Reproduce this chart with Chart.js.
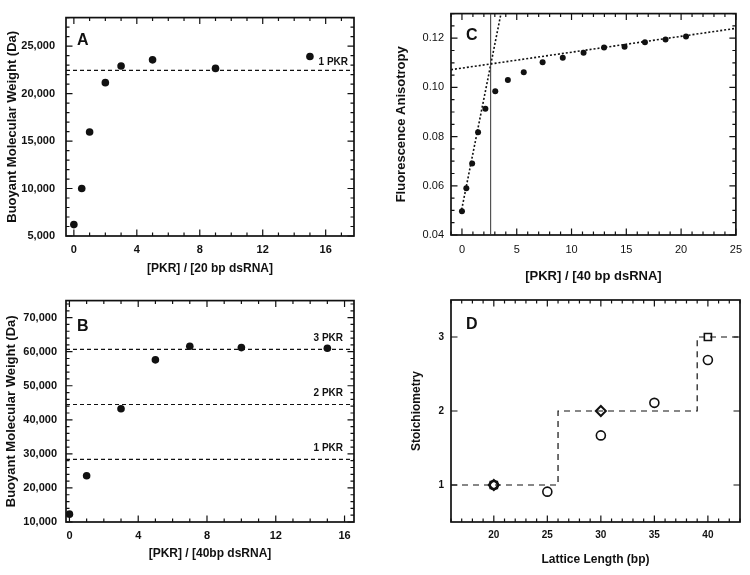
<!DOCTYPE html>
<html>
<head>
<meta charset="utf-8">
<script src="https://cdn.jsdelivr.net/npm/chart.js@4.4.0/dist/chart.umd.min.js"></script>
<style>
  html, body { margin: 0; padding: 0; background: #fff; }
  #wrap { position: relative; width: 750px; height: 575px; overflow: hidden; }
  canvas { position: absolute; }
</style>
</head>
<body>
<div id="wrap">
  <canvas id="panel-a" width="375" height="290" style="left:0;top:0"></canvas>
  <canvas id="panel-c" width="375" height="290" style="left:375px;top:0"></canvas>
  <canvas id="panel-b" width="375" height="290" style="left:0;top:285px"></canvas>
  <canvas id="panel-d" width="375" height="290" style="left:375px;top:285px"></canvas>
</div>
<script>
// Panel A - buoyant weight vs [PKR]/[20 bp dsRNA]
const aRatio = [0, 0.5, 1, 2, 3, 5, 9, 15];
const aWeight = [6200, 10000, 15950, 21150, 22900, 23550, 22650, 23900];
const aLevels = [22450];
const aLevelLabels = ['1 PKR'];
const aXRange = [-0.5, 17.8];
const aYRange = [5000, 28000];
const aXTicks = [0, 4, 8, 12, 16];
const aYTicks = [5000, 10000, 15000, 20000, 25000];

// Panel B - buoyant weight vs [PKR]/[40bp dsRNA]
const bRatio = [0, 1, 3, 5, 7, 10, 15];
const bWeight = [12300, 23600, 43250, 57600, 61600, 61200, 61000];
const bLevels = [28400, 44500, 60700];
const bLevelLabels = ['1 PKR', '2 PKR', '3 PKR'];
const bXRange = [-0.2, 16.55];
const bYRange = [10000, 75000];
const bXTicks = [0, 4, 8, 12, 16];
const bYTicks = [10000, 20000, 30000, 40000, 50000, 60000, 70000];

// Panel C - fluorescence anisotropy titration
const cRatio = [0, 0.4, 0.93, 1.47, 2.14, 3.04, 4.19, 5.64, 7.36, 9.2, 11.1, 12.97, 14.84, 16.7, 18.58, 20.45];
const cAniso = [0.0497, 0.059, 0.0691, 0.0818, 0.0913, 0.0984, 0.103, 0.1062, 0.1102, 0.1121, 0.1141, 0.1162, 0.1165, 0.1184, 0.1195, 0.1207];
const cSteepX = [-0.1, 3.56];
const cSteepY = [0.0487, 0.13];
const cFlatX = [-1, 25];
const cFlatY = [0.1072, 0.124];
const cBreak = 2.62;
const cXRange = [-1, 25];
const cYRange = [0.04, 0.13];
const cXTicks = [0, 5, 10, 15, 20, 25];
const cYTicks = [0.04, 0.06, 0.08, 0.10, 0.12];

// Panel D - stoichiometry vs lattice length
const dCircleX = [20, 25, 30, 35, 40];
const dCircleY = [1.0, 0.91, 1.67, 2.11, 2.69];
const dDiamondX = [20, 30];
const dDiamondY = [1, 2];
const dSquareX = [20, 40];
const dSquareY = [1, 3];
const dStepX = [16, 26, 26, 39, 39, 43];
const dStepY = [1, 1, 2, 2, 3, 3];
const dXRange = [16, 43];
const dYRange = [0.5, 3.5];
const dXTicks = [20, 25, 30, 35, 40];
const dYTicks = [1, 2, 3];

const FONT = "'Liberation Sans', Arial, Helvetica, sans-serif";
const INK = '#111';
Chart.defaults.font.family = FONT;
Chart.defaults.color = INK;

const pts = (xs, ys) => xs.map((x, i) => ({ x: x, y: ys[i] }));

// frame box with inward ticks on all four sides, panel letter, level labels
const framePlugin = {
  id: 'frame',
  beforeDatasetsDraw(chart, args, o) {
    const { ctx, chartArea: a, scales: { x, y } } = chart;
    ctx.save();
    ctx.strokeStyle = INK;
    ctx.lineWidth = 1.2;
    ctx.beginPath();
    const xMark = (v, len) => {
      const p = x.getPixelForValue(v);
      ctx.moveTo(p, a.bottom); ctx.lineTo(p, a.bottom - len);
      ctx.moveTo(p, a.top); ctx.lineTo(p, a.top + len);
    };
    const yMark = (v, len) => {
      const p = y.getPixelForValue(v);
      ctx.moveTo(a.left, p); ctx.lineTo(a.left + len, p);
      ctx.moveTo(a.right, p); ctx.lineTo(a.right - len, p);
    };
    const minors = (min, max, step, mark) => {
      if (!step) return;
      for (let v = Math.ceil(min / step - 1e-9) * step; v <= max + 1e-9; v += step) mark(v, 3.5);
    };
    minors(x.min, x.max, o.xMinor, xMark);
    minors(y.min, y.max, o.yMinor, yMark);
    x.ticks.forEach(t => xMark(t.value, 6.5));
    y.ticks.forEach(t => yMark(t.value, 6.5));
    ctx.stroke();
    ctx.lineWidth = 1.7;
    ctx.strokeRect(a.left, a.top, a.right - a.left, a.bottom - a.top);

    ctx.fillStyle = INK;
    ctx.font = 'bold 16px ' + FONT;
    ctx.textAlign = 'left';
    ctx.textBaseline = 'alphabetic';
    ctx.fillText(o.letter, a.left + o.letterDx, a.top + o.letterDy);

    ctx.font = 'bold 10px ' + FONT;
    ctx.textAlign = 'right';
    (o.levels || []).forEach((v, i) => {
      ctx.fillText(o.levelLabels[i], a.right - o.levelDx, y.getPixelForValue(v) - o.levelDy);
    });
    ctx.restore();
  }
};

function linAxis(o) {
  const isX = o.axis === 'x';
  return {
    type: 'linear',
    min: o.range[0],
    max: o.range[1],
    grid: { display: false, drawTicks: false },
    border: { display: false },
    afterBuildTicks: s => { s.ticks = o.ticks.map(v => ({ value: v })); },
    afterFit: s => { if (isX) s.height = o.size; else s.width = o.size; },
    ticks: { font: o.tickFont, padding: o.pad, color: INK, callback: o.fmt },
    title: {
      display: true,
      text: o.title,
      color: INK,
      font: { size: o.titleSize, weight: 'bold' },
      padding: isX ? { top: 0, bottom: o.titlePad } : { top: o.titlePad, bottom: 0 }
    }
  };
}

const comma = v => Number(v).toLocaleString('en-US');

function markerSet(data, opts) {
  return Object.assign({
    data: data,
    showLine: false,
    pointRadius: 4,
    pointBackgroundColor: INK,
    pointBorderColor: INK,
    pointBorderWidth: 0
  }, opts);
}

function lineSet(data, opts) {
  return Object.assign({
    data: data,
    showLine: true,
    pointRadius: 0,
    borderColor: INK,
    borderWidth: 1.3,
    fill: false,
    tension: 0
  }, opts);
}

function makeChart(id, datasets, scales, padding, frame) {
  return new Chart(document.getElementById(id), {
    type: 'scatter',
    data: { datasets: datasets },
    options: {
      responsive: false,
      devicePixelRatio: 1,
      animation: false,
      events: [],
      layout: { padding: padding },
      plugins: { legend: { display: false }, tooltip: { enabled: false }, frame: frame },
      scales: scales
    },
    plugins: [framePlugin]
  });
}

// A
makeChart('panel-a', [
  ...aLevels.map(v => lineSet(pts(aXRange, [v, v]), { borderDash: [4, 3], borderWidth: 1.2 })),
  markerSet(pts(aRatio, aWeight), { pointRadius: 3.8 })
], {
  x: linAxis({ axis: 'x', range: aXRange, ticks: aXTicks, size: 54, pad: 7,
    tickFont: { size: 11, weight: 'bold' }, fmt: v => String(v),
    title: '[PKR] / [20 bp dsRNA]', titleSize: 12, titlePad: 14 }),
  y: linAxis({ axis: 'y', range: aYRange, ticks: aYTicks, size: 66, pad: 11,
    tickFont: { size: 11, weight: 'bold' }, fmt: comma,
    title: 'Buoyant Molecular Weight (Da)', titleSize: 13, titlePad: 5 })
}, { left: 0, top: 13, right: 21, bottom: 0 },
{ xMinor: 1, yMinor: 1000, letter: 'A', letterDx: 11, letterDy: 27,
  levels: aLevels, levelLabels: aLevelLabels, levelDx: 6, levelDy: 5 });

// B
makeChart('panel-b', [
  ...bLevels.map(v => lineSet(pts(bXRange, [v, v]), { borderDash: [4, 3], borderWidth: 1.2 })),
  markerSet(pts(bRatio, bWeight), { pointRadius: 3.8 })
], {
  x: linAxis({ axis: 'x', range: bXRange, ticks: bXTicks, size: 53, pad: 7,
    tickFont: { size: 11, weight: 'bold' }, fmt: v => String(v),
    title: '[PKR] / [40bp dsRNA]', titleSize: 12, titlePad: 14 }),
  y: linAxis({ axis: 'y', range: bYRange, ticks: bYTicks, size: 66, pad: 9,
    tickFont: { size: 11, weight: 'bold' }, fmt: comma,
    title: 'Buoyant Molecular Weight (Da)', titleSize: 13, titlePad: 4 })
}, { left: 0, top: 13, right: 21, bottom: 0 },
{ xMinor: 1, yMinor: 2000, letter: 'B', letterDx: 11, letterDy: 30,
  levels: bLevels, levelLabels: bLevelLabels, levelDx: 11, levelDy: 8 });

// C
makeChart('panel-c', [
  lineSet(pts([cBreak, cBreak], cYRange), { borderWidth: 1, borderColor: '#333' }),
  lineSet(pts(cSteepX, cSteepY), { borderDash: [2, 2], borderWidth: 1.6 }),
  lineSet(pts(cFlatX, cFlatY), { borderDash: [2, 2], borderWidth: 1.6 }),
  markerSet(pts(cRatio, cAniso), { pointRadius: 3 })
], {
  x: linAxis({ axis: 'x', range: cXRange, ticks: cXTicks, size: 55, pad: 8,
    tickFont: { size: 11 }, fmt: v => String(v),
    title: '[PKR] / [40 bp dsRNA]', titleSize: 13, titlePad: 6 }),
  y: linAxis({ axis: 'y', range: cYRange, ticks: cYTicks, size: 76, pad: 7,
    tickFont: { size: 11 }, fmt: v => Number(v).toFixed(2),
    title: 'Fluorescence Anisotropy', titleSize: 13, titlePad: 19 })
}, { left: 0, top: 13, right: 11, bottom: 0 },
{ xMinor: 1, yMinor: 0.005, letter: 'C', letterDx: 15, letterDy: 26 });

// D
const hollow = { pointBackgroundColor: 'rgba(0,0,0,0)', pointBorderColor: INK, pointBorderWidth: 1.6 };
makeChart('panel-d', [
  lineSet(pts(dStepX, dStepY), { borderDash: [6, 5], borderWidth: 1.2 }),
  markerSet(pts(dCircleX, dCircleY), Object.assign({ pointRadius: 4.5, pointStyle: 'circle' }, hollow)),
  markerSet(pts(dDiamondX, dDiamondY), Object.assign({ pointRadius: 5, pointStyle: 'rectRot' }, hollow, { pointBorderWidth: 2 })),
  markerSet(pts(dSquareX, dSquareY), Object.assign({ pointRadius: 5, pointStyle: 'rect', pointBackgroundColor: '#fff' }, { pointBorderColor: INK, pointBorderWidth: 1.6 }))
], {
  x: linAxis({ axis: 'x', range: dXRange, ticks: dXTicks, size: 53, pad: 7,
    tickFont: { size: 10, weight: 'bold' }, fmt: v => String(v),
    title: 'Lattice Length (bp)', titleSize: 12, titlePad: 8 }),
  y: linAxis({ axis: 'y', range: dYRange, ticks: dYTicks, size: 76, pad: 7,
    tickFont: { size: 10, weight: 'bold' }, fmt: v => String(v),
    title: 'Stoichiometry', titleSize: 12, titlePad: 34 })
}, { left: 0, top: 15, right: 10, bottom: 0 },
{ xMinor: 1, yMinor: 0, letter: 'D', letterDx: 15, letterDy: 29 });
</script>
</body>
</html>
